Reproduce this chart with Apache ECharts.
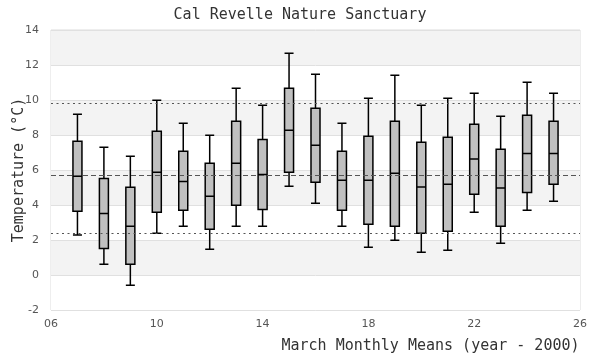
<!DOCTYPE html>
<html>
<head>
<meta charset="utf-8">
<script src="https://cdn.jsdelivr.net/npm/echarts@6/dist/echarts.min.js"></script>
<style>html,body{margin:0;padding:0;background:#fff;}#c{width:600px;height:360px;}</style>
</head>
<body>
<div id="c"></div>
<script>
const years   = [7, 8, 9, 10, 11, 12, 13, 14, 15, 16, 17, 18, 19, 20, 21, 22, 23, 24, 25];
const mins    = [2.29, 0.61, -0.59, 2.38, 2.78, 1.47, 2.78, 2.78, 5.07, 4.10, 2.78, 1.58, 1.98, 1.30, 1.41, 3.58, 1.81, 3.70, 4.21];
const q1s     = [3.64, 1.52, 0.61, 3.58, 3.70, 2.61, 3.98, 3.75, 5.87, 5.30, 3.70, 2.90, 2.78, 2.38, 2.50, 4.61, 2.78, 4.72, 5.18];
const medians = [5.64, 3.52, 2.78, 5.87, 5.35, 4.50, 6.38, 5.75, 8.27, 7.41, 5.41, 5.41, 5.81, 5.03, 5.18, 6.63, 4.97, 6.95, 6.95];
const q3s     = [7.64, 5.52, 5.01, 8.21, 7.07, 6.38, 8.78, 7.75, 10.67, 9.53, 7.07, 7.93, 8.78, 7.58, 7.87, 8.61, 7.18, 9.13, 8.78];
const maxs    = [9.18, 7.30, 6.78, 9.98, 8.67, 7.98, 10.67, 9.70, 12.67, 11.47, 8.67, 10.10, 11.41, 9.70, 10.10, 10.38, 9.07, 11.01, 10.38];
const refUpper = 9.83;
const refMean  = 5.70;
const refLower = 2.38;
const xTicks = [6, 10, 14, 18, 22, 26];
const yTicks = [-2, 0, 2, 4, 6, 8, 10, 12, 14];

const boxData = years.map((y, i) => [y, mins[i], q1s[i], medians[i], q3s[i], maxs[i]]);
const mono = '"DejaVu Sans Mono", monospace';

const chart = echarts.init(document.getElementById('c'), null, {renderer: 'canvas'});
chart.setOption({
  animation: false,
  backgroundColor: '#fff',
  title: {
    text: 'Cal Revelle Nature Sanctuary',
    left: 'center', top: 3,
    textStyle: {fontFamily: mono, fontSize: 15, fontWeight: 'normal', color: '#333'}
  },
  grid: {left: 51, right: 20, top: 30, bottom: 50, show: true, borderColor: '#dcdcdc', borderWidth: 1,
    containLabel: false, outerBoundsMode: 'none'},
  xAxis: {
    type: 'value', min: xTicks[0], max: xTicks[xTicks.length - 1], interval: 4,
    axisLine: {show: false}, axisTick: {show: false}, splitLine: {show: false},
    axisLabel: {fontFamily: '"DejaVu Sans", sans-serif', fontSize: 11, color: '#555', margin: 9,
      formatter: v => String(v).padStart(2, '0')},
    name: 'March Monthly Means (year - 2000)', nameLocation: 'middle', nameGap: 29, nameMoveOverlap: false,
    nameTextStyle: {fontFamily: mono, fontSize: 15, color: '#333', padding: [0, 0, 0, 230]}
  },
  yAxis: {
    type: 'value', min: yTicks[0], max: yTicks[yTicks.length - 1], interval: 2,
    axisLine: {show: false}, axisTick: {show: false},
    splitLine: {show: true, lineStyle: {color: '#e0e0e0', width: 1}},
    splitArea: {show: true, areaStyle: {color: ['#ffffff', '#f3f3f3']}},
    axisLabel: {fontFamily: '"DejaVu Sans", sans-serif', fontSize: 11, color: '#555', margin: 12},
    name: 'Temperature (°C)', nameLocation: 'middle', nameGap: 24, nameMoveOverlap: false,
    nameTextStyle: {fontFamily: mono, fontSize: 15, color: '#333'}
  },
  series: [{
    type: 'boxplot',
    data: boxData,
    boxWidth: [9, 9],
    itemStyle: {color: '#c0c0c0', borderColor: '#000', borderWidth: 1.5},
    markLine: {
      silent: true, symbol: 'none', label: {show: false},
      data: [
        {yAxis: refUpper, lineStyle: {type: [2, 3.5], color: '#555', width: 1.2}},
        {yAxis: refMean,  lineStyle: {type: [5, 3], color: '#555', width: 1.2}},
        {yAxis: refLower, lineStyle: {type: [2, 3.5], color: '#555', width: 1.2}}
      ]
    }
  }]
});
</script>
</body>
</html>
